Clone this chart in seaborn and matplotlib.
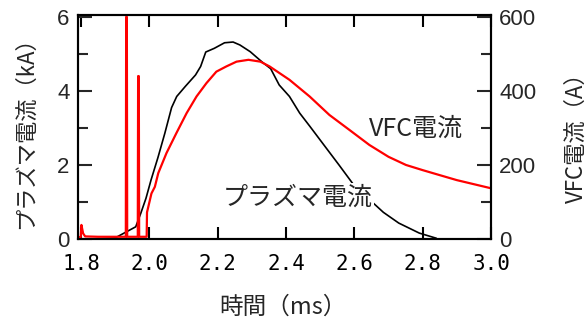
import numpy as np
import pandas as pd
import matplotlib
matplotlib.use("Agg")
import matplotlib.pyplot as plt
import seaborn as sns
from matplotlib.ticker import FixedLocator

# ---- data ----
plasma_t = [1.790, 1.800, 1.850, 1.900, 1.930, 1.960, 1.975, 1.990, 2.005, 2.025,
            2.045, 2.065, 2.080, 2.105, 2.135, 2.150, 2.165, 2.190, 2.220, 2.245,
            2.265, 2.295, 2.330, 2.355, 2.380, 2.410, 2.440, 2.470, 2.510, 2.555,
            2.595, 2.640, 2.685, 2.730, 2.790, 2.840]
plasma_ka = [0.0, 0.0, 0.0, 0.03, 0.18, 0.33, 0.70, 1.10, 1.60, 2.20,
             2.85, 3.55, 3.85, 4.12, 4.43, 4.66, 5.05, 5.15, 5.30, 5.32,
             5.24, 5.06, 4.78, 4.60, 4.16, 3.85, 3.40, 3.04, 2.55, 2.00,
             1.50, 1.10, 0.72, 0.43, 0.16, 0.02]

vfc_t = [1.791, 1.799, 1.801, 1.806, 1.812, 1.850, 1.931, 1.932, 1.934, 1.935,
         1.966, 1.967, 1.969, 1.970, 1.992, 1.993, 2.006, 2.016, 2.026, 2.050,
         2.079, 2.109, 2.138, 2.167, 2.196, 2.225, 2.255, 2.290, 2.325, 2.352,
         2.410, 2.469, 2.527, 2.585, 2.644, 2.700, 2.751, 2.800, 2.848, 2.900,
         2.950, 3.000]
vfc_a = [5, 5, 38, 15, 7, 6, 6, 600, 600, 6,
         6, 440, 440, 6, 6, 72, 123, 141, 178, 232,
         286, 340, 385, 421, 452, 466, 479, 484, 479, 466,
         430, 385, 335, 295, 254, 222, 200, 186, 173, 159,
         148, 137]

x_ticks = [1.8, 2.0, 2.2, 2.4, 2.6, 2.8, 3.0]
x_ticklabels = ["1.8", "2.0", "2.2", "2.4", "2.6", "2.8", "3.0"]
yl_major = [0, 2, 4, 6]
yl_minor = [1, 3, 5]
yr_major = [0, 200, 400, 600]
yr_minor = [100, 300, 500]

plasma_df = pd.DataFrame({"t": plasma_t, "I": plasma_ka})
vfc_df = pd.DataFrame({"t": vfc_t, "I": vfc_a})

# ---- style ----
sns.set_style("ticks")
plt.rcParams["font.family"] = ["Noto Sans CJK JP", "DejaVu Sans"]

W, H = 586, 322
fig = plt.figure(figsize=(W / 100, H / 100), dpi=100)
L, R, T, B = 78, 491, 15, 239
ax = fig.add_axes([L / W, 1 - B / H, (R - L) / W, (B - T) / H])
ax2 = ax.twinx()

sns.lineplot(data=plasma_df, x="t", y="I", ax=ax, color="black", linewidth=1.2,
             sort=False, estimator=None)
sns.lineplot(data=vfc_df, x="t", y="I", ax=ax2, color="#ff0000", linewidth=1.6,
             sort=False, estimator=None)

ax.set_xlim(1.791, 3.0)
ax.set_ylim(0, 6.05)
ax2.set_ylim(0, 605)

ax.set_xlabel("")
ax.set_ylabel("")
ax2.set_ylabel("")

ax.set_xticks(x_ticks)
ax.set_xticklabels(x_ticklabels, fontfamily="DejaVu Sans Mono", fontsize=15)
ax.yaxis.set_major_locator(FixedLocator(yl_major))
ax.yaxis.set_minor_locator(FixedLocator(yl_minor))
ax2.yaxis.set_major_locator(FixedLocator(yr_major))
ax2.yaxis.set_minor_locator(FixedLocator(yr_minor))

ax.tick_params(axis="x", which="major", direction="in", length=8.5, width=1.5,
               top=True, bottom=True, pad=10.5, colors="black")
ax.tick_params(axis="y", which="major", direction="in", length=10, width=1.5,
               pad=6, labelsize=16, labelfontfamily="Liberation Sans")
ax.tick_params(axis="y", which="minor", direction="in", length=7, width=1.5)
ax2.tick_params(axis="y", which="major", direction="in", length=10, width=1.5,
                pad=6, labelsize=16, labelfontfamily="Liberation Sans")
ax2.tick_params(axis="y", which="minor", direction="in", length=7, width=1.5)

for a in (ax, ax2):
    for s in a.spines.values():
        s.set_linewidth(1.5)
        s.set_color("black")
        s.set_visible(True)

# axis titles
fig.text(283 / W, 1 - 307 / H, "時間（ms）", ha="center", va="center", fontsize=17)
fig.text(25 / W, 1 - 127 / H, "プラズマ電流（kA）", ha="center", va="center",
         rotation=90, fontsize=16)
fig.text(576 / W, 1 - 132 / H, "VFC電流（A）", ha="center", va="center",
         rotation=90, fontsize=16)

# in-plot labels
box = dict(facecolor="white", edgecolor="none", pad=1.0)
ax2.text(2.435, 111, "プラズマ電流", ha="center", va="center", fontsize=18,
         bbox=box)
ax2.text(2.78, 299, "VFC電流", ha="center", va="center", fontsize=18)

fig.savefig("out.png", dpi=100)
